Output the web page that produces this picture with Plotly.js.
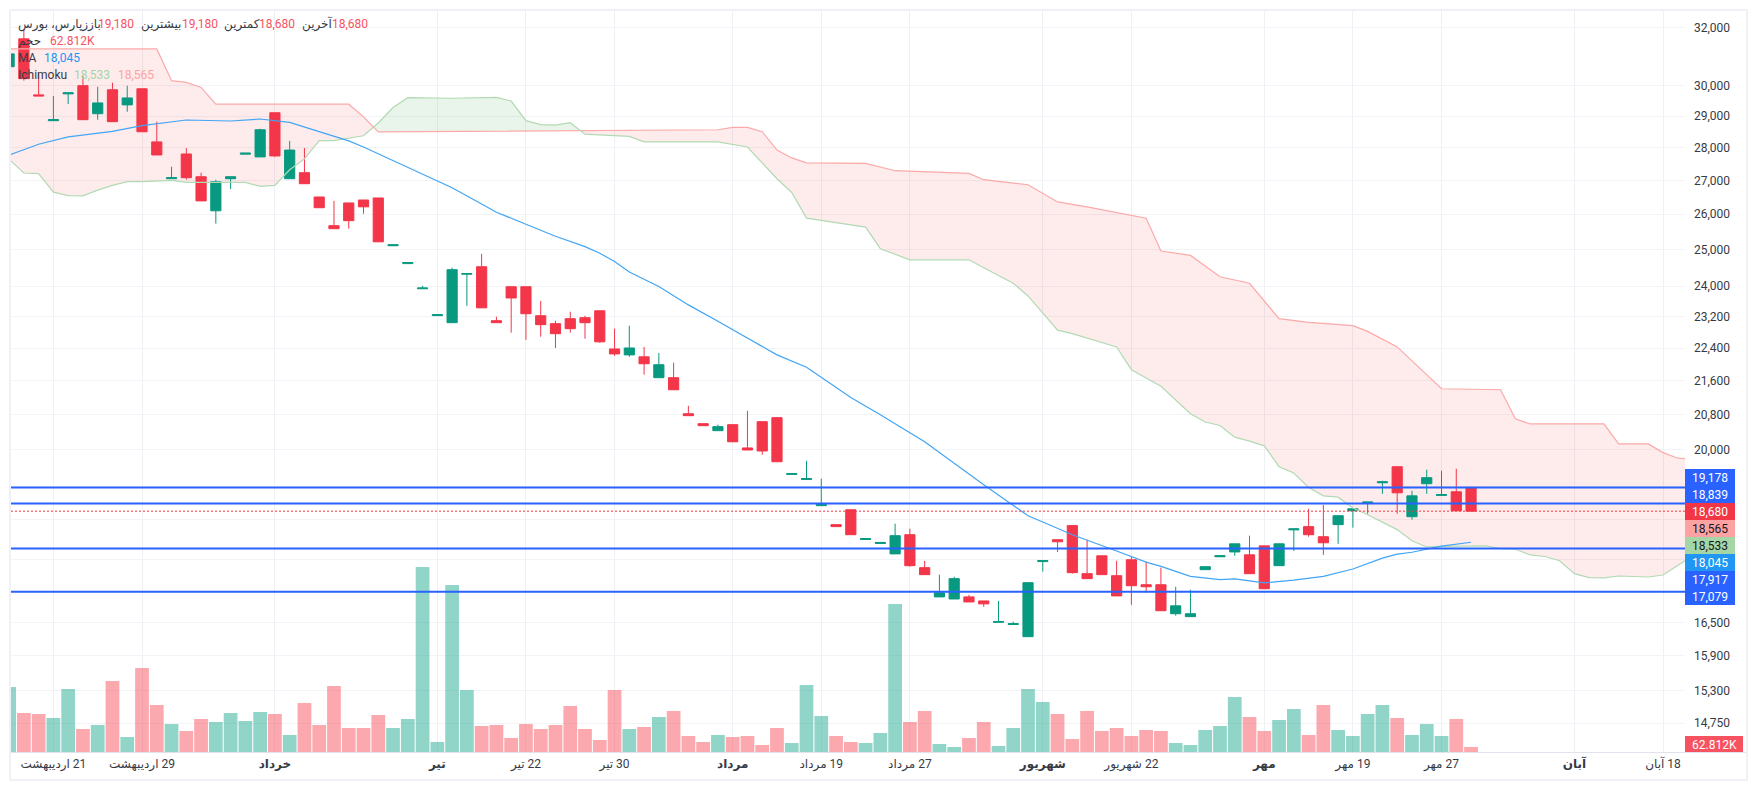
<!DOCTYPE html>
<html><head><meta charset="utf-8">
<script src="https://cdn.plot.ly/plotly-3.0.1.min.js"></script>
<style>html,body{margin:0;padding:0;background:#fff;overflow:hidden}#c{width:1757px;height:790px}</style>
</head><body><div id="c"></div>
<script>
const open=[30644,31610,29697,28856,29731,30002,29080,29866,29368,29900,28182,27050,27805,27110,26100,27050,27800,27715,29112,27050,27232,26505,25672,26330,26416,26476,25105,24610,23930,23225,23043,24320,24524,23094,23984,23984,23222,23018,23146,23171,23350,22378,22231,22183,21674,21674,20821,20592,20432,20569,20043,20638,20730,19460,19350,18795,18402,18709,18100,18020,17812,18197,17541,16979,16940,16979,16903,16505,16465,16243,17660,18095,18382,17424,17774,17385,17696,17211,17211,16664,16610,17502,17755,17851,17793,17972,17580,18295,18361,18156,18402,18688,18855,19280,19628,18565,19260,19010,19088,19180];
const high=[31084,31947,30408,29663,29765,30340,29968,30103,30002,29900,28824,27413,27990,27232,27020,27110,27830,28600,29112,28215,27990,26505,26390,26330,26416,26476,25130,24640,24010,23250,24497,24340,24877,23197,23984,23984,23606,23094,23325,23222,23350,22890,22966,22429,22279,22037,21005,20592,20569,20569,20890,20638,20730,19480,19758,19368,18402,18709,18120,18040,18422,18320,17677,17405,17366,17018,16903,16903,16517,17250,17680,18095,18382,18095,17774,17677,17754,17657,17541,17172,17115,17560,17775,18013,18177,17972,18013,18315,18729,18812,18586,18729,18870,19323,19628,19109,19563,19541,19585,19180];
const low=[30644,30171,29663,28856,29400,28888,28888,28824,29144,28502,27775,27050,27020,26390,25730,26740,27800,27715,27715,27050,26900,26190,25586,25586,26015,25214,25105,24610,23930,23225,23043,23478,23427,23043,22787,22608,22685,22403,22787,22634,22531,22207,22183,21747,21674,21384,20776,20546,20432,20180,19997,19888,19737,19460,19350,18795,18361,18197,18100,18020,17812,17560,17405,16979,16940,16884,16793,16505,16465,16243,17463,17851,17424,17328,17405,16998,16830,17057,16720,16628,16610,17502,17755,17774,17424,17134,17580,17870,18156,17793,18013,18341,18627,19044,18627,18504,19044,19010,18688,18680];
const close=[31084,30239,29663,28888,29765,28888,29432,28824,29596,28502,27775,27080,27080,26390,26960,27110,27830,28566,27745,27926,26900,26190,25586,25815,26216,25214,25130,24640,23950,23250,24443,24340,23427,23043,23686,23274,22992,22762,22890,23043,22557,22255,22403,22013,21989,21384,20776,20546,20524,20180,19997,19975,19737,19480,19370,18815,18361,18197,18120,18040,18177,17580,17405,17057,17328,16884,16848,16520,16480,17250,17680,18054,17444,17328,17405,16998,17192,17172,16720,16811,16664,17560,17775,18013,17424,17134,18013,18315,18197,18034,18586,18729,18870,19300,19066,19001,19390,19030,18688,18680];
const volume=[812.5,487.5,475,425,787.5,287.5,337.5,887.5,187.5,1050,587.5,350,262.5,412.5,375,487.5,387.5,500,475,212.5,612.5,337.5,825,300,300,462.5,300,412.5,2312.5,125,2087.5,775,325,337.5,175,350,287.5,337.5,575,287.5,150,775,287.5,312.5,437.5,512.5,200,125,212.5,187.5,200,87.5,300,112.5,837.5,450,200,125,112.5,237.5,1850,375,512.5,100,62.5,175,375,75,300,787.5,625,475,162.5,512.5,262.5,300,200,275,262.5,112.5,87.5,275,325,687.5,437.5,262.5,400,537.5,212.5,587.5,275,200,475,587.5,425,212.5,350,200,412.5,62.812];
const maX=[0,2,4,7,9,12,15,17,19,21,23,24,26,28,30,32,33,35,37,39,40,41,42,44,46,48,50,52,54,57,59,62,66,68,69,70,72,75,77,78,80,82,83,85,87,89,91,93,94,95,97,99];
const maY=[27775,28108,28342,28512,28696,28878,28846,28910,28802,28495,28214,28022,27594,27193,26778,26301,26058,25714,25371,25079,24895,24668,24381,23991,23504,23077,22652,22231,21929,21202,20798,20180,19240,18801,18586,18457,18197,17870,17650,17566,17372,17308,17322,17245,17300,17372,17515,17729,17807,17844,17967,18045];
const spanBX=[0,10,11,12,13,14,23,24,25,48,49,50,51,52,53,54,58,60,65,66,69,71,73,77,78,80,82,84,86,88,91,92,94,97,101,102,103,108,109,111,112,113,114];
const spanB=[31255,31255,30171,30112,29945,29390,29390,28980,28497,28566,28640,28640,28505,27926,27684,27533,27518,27292,27210,27020,26870,26359,26216,25887,24958,24836,24253,24077,23146,23051,22966,22820,22429,21408,21384,20706,20585,20585,20134,20134,19938,19815,19800];
const spanAX=[0,1,2,3,4,5,6,7,8,9,11,12,16,17,18,19,20,21,22,23,24,25,26,27,30,33,34,35,36,37,38,39,42,43,48,50,52,53,54,58,59,61,65,66,68,69,71,72,75,76,78,80,81,82,83,84,85,86,87,88,89,90,91,92,93,94,95,96,97,99,100,101,102,103,104,105,106,107,108,109,111,112,113,114];
const spanA=[27645,27223,27202,26650,26547,26537,26710,26850,26960,26960,27000,26940,26940,26820,26850,27322,27654,28224,28224,28301,28374,28782,29282,29606,29586,29612,29494,28856,28728,28712,28792,28424,28355,28182,28182,28022,27050,26638,25887,25629,25022,24714,24714,24497,24077,23740,22851,22762,22429,21868,21466,20821,20630,20551,20285,20194,20089,19628,19491,19179,19001,18973,18746,18607,18449,18300,18075,17950,17960,17975,17970,17917,17904,17793,17760,17677,17424,17347,17341,17379,17360,17398,17580,17774];
const supportLevels=[19178,18839,17917,17079];
const lastPrice=18680;
const priceTickVals=[32000,30000,29000,28000,27000,26000,25000,24000,23200,22400,21600,20800,20000,19200,18500,17700,16500,15900,15300,14750];
const priceTickText=['32,000','30,000','29,000','28,000','27,000','26,000','25,000','24,000','23,200','22,400','21,600','20,800','20,000','','','','16,500','15,900','15,300','14,750'];
const dateTickVals=[3,9,18,29,35,41,49,55,61,70,76,85,91,97,106,112];
const dateTickText=['\u200F21 اردیبهشت','\u200F29 اردیبهشت','<b>خرداد</b>','<b>تیر</b>','\u200F22 تیر','\u200F30 تیر','<b>مرداد</b>','\u200F19 مرداد','\u200F27 مرداد','<b>شهریور</b>','\u200F22 شهریور','<b>مهر</b>','\u200F19 مهر','\u200F27 مهر','<b>آبان</b>','\u200F18 آبان'];
const priceTags=[['19,178','#2962ff','#fff'],['18,839','#2962ff','#fff'],['18,680','#f23645','#fff'],['18,565','#fda2a2','#131722'],['18,533','#a5d6a7','#131722'],['18,045','#2196f3','#fff'],['17,917','#2962ff','#fff'],['17,079','#2962ff','#fff']];
const legendItems=[
 ['زپارس، بورس',18,24,'#363a45'],['باز',87,24,'#363a45'],['19,180',98,24,'#f7525f'],['بیشترین',141,24,'#363a45'],['19,180',182,24,'#f7525f'],['کمترین',224,24,'#363a45'],['18,680',259,24,'#f7525f'],['آخرین',302,24,'#363a45'],['18,680',332,24,'#f7525f'],
 ['حجم',18,41,'#363a45'],['62.812K',50,41,'#f7525f'],
 ['MA',18,58,'#363a45'],['18,045',44,58,'#2196f3'],
 ['Ichimoku',18,75,'#363a45'],['18,533',74,75,'#a5d6a7'],['18,565',118,75,'#fda2a2']];

// ---------- geometry ----------
const W=1757,H=790,L=11,R=1685,T=11,B=752;
const FONT='Roboto, "DejaVu Sans", sans-serif';
const pX=p=>(p-L)/(R-L), pY=p=>1-(p-T)/(B-T);
const STEP=14.767,X0=9.1;
const idx=p=>(p-X0)/STEP;
const idxs=open.map((_,i)=>i);

// ---------- Ichimoku cloud polygons, split where the spans cross ----------
function at(xs,ys,x){for(let i=1;i<xs.length;i++){if(x<=xs[i]){const t=(x-xs[i-1])/(xs[i]-xs[i-1]);return Math.exp(Math.log(ys[i-1])*(1-t)+Math.log(ys[i])*t);}}return ys[ys.length-1];}
const allX=[...new Set([...spanAX,...spanBX])].sort((a,b)=>a-b);
let segs=[],cur=null;
allX.forEach((x,k)=>{
  const a=at(spanAX,spanA,x),b=at(spanBX,spanB,x),s=a>=b?1:-1;
  if(!cur){cur={s,pts:[]};segs.push(cur);}
  else if(s!==cur.s){
    const px=allX[k-1],pa=at(spanAX,spanA,px),pb=at(spanBX,spanB,px);
    const d0=Math.log(pa/pb),d1=Math.log(a/b),t=d0/(d0-d1),cx=px+(x-px)*t,cv=at(spanAX,spanA,cx);
    cur.pts.push([cx,cv,cv]);cur={s,pts:[[cx,cv,cv]]};segs.push(cur);
  }
  cur.pts.push([x,a,b]);
});

const traces=[
 {type:'bar',x:idxs,y:volume,yaxis:'y2',hoverinfo:'skip',showlegend:false,width:0.93,
  marker:{color:idxs.map(i=>close[i]>=open[i]?'rgba(5,160,132,0.44)':'rgba(247,82,95,0.5)'),line:{width:0}}},
 {type:'scatter',mode:'lines',x:spanBX,y:spanB,line:{color:'#fba9a9',width:1.2},hoverinfo:'skip',showlegend:false},
 {type:'scatter',mode:'lines',x:spanAX,y:spanA,line:{color:'#b2dab3',width:1.2},hoverinfo:'skip',showlegend:false},
 {type:'candlestick',x:idxs,open,high,low,close,hoverinfo:'skip',showlegend:false,whiskerwidth:0,
  increasing:{line:{color:'#089981',width:1},fillcolor:'#089981'},
  decreasing:{line:{color:'#f33649',width:1},fillcolor:'#f33649'}},
 {type:'scatter',mode:'lines',x:maX,y:maY,line:{color:'#42a5f5',width:1.2},hoverinfo:'skip',showlegend:false}
];

// ---------- shapes ----------
const shapes=[];
segs.forEach(sg=>{
  const up=sg.pts.map(p=>p[0]+' '+p[1]),dn=sg.pts.slice().reverse().map(p=>p[0]+' '+p[2]);
  shapes.push({type:'path',xref:'x',yref:'y',layer:'between',line:{width:0},
    fillcolor:sg.s>0?'rgba(76,175,80,0.12)':'rgba(242,54,69,0.1)',
    path:'M'+up.concat(dn).join(' L')+' Z'});
});
supportLevels.forEach(v=>shapes.push({type:'line',xref:'paper',yref:'y',x0:0,x1:1,y0:v,y1:v,line:{color:'#2962ff',width:2}}));
shapes.push({type:'line',xref:'paper',yref:'y',x0:0,x1:1,y0:lastPrice,y1:lastPrice,line:{color:'#f23645',width:1,dash:'2px,2px'}});
const TAG_TOP=469,TAG_H=17;
priceTags.forEach((t,i)=>shapes.push({type:'rect',xref:'paper',yref:'paper',x0:pX(R),x1:pX(1735),y0:pY(TAG_TOP+i*TAG_H),y1:pY(TAG_TOP+(i+1)*TAG_H),fillcolor:t[1],line:{width:0}}));
shapes.push({type:'rect',xref:'paper',yref:'paper',x0:pX(R),x1:pX(1743),y0:pY(736),y1:pY(752),fillcolor:'#f7525f',line:{width:0}});
shapes.push({type:'line',xref:'paper',yref:'paper',x0:0,x1:pX(1747),y0:pY(752.5),y1:pY(752.5),line:{color:'#e0e3eb',width:1}});
shapes.push({type:'rect',xref:'paper',yref:'paper',x0:pX(10),x1:pX(1747),y0:pY(10),y1:pY(780),line:{color:'#f0f1f6',width:2},fillcolor:'rgba(0,0,0,0)'});

// ---------- annotations ----------
const annotations=[];
priceTags.forEach((t,i)=>annotations.push({xref:'paper',yref:'paper',x:pX(1710),y:pY(TAG_TOP+(i+0.5)*TAG_H),text:t[0],showarrow:false,xanchor:'center',yanchor:'middle',font:{family:FONT,size:12,color:t[2]}}));
annotations.push({xref:'paper',yref:'paper',x:pX(1714),y:pY(744.5),text:'62.812K',showarrow:false,xanchor:'center',yanchor:'middle',font:{family:FONT,size:12,color:'#fff'}});
legendItems.forEach(t=>annotations.push({xref:'paper',yref:'paper',x:pX(t[1]),y:pY(t[2]),text:t[0],showarrow:false,xanchor:'left',yanchor:'middle',borderpad:0,borderwidth:0,font:{family:FONT,size:12,color:t[3]}}));

const layout={width:W,height:H,margin:{l:L,r:W-R,t:T,b:H-B,pad:0},paper_bgcolor:'#fff',plot_bgcolor:'#fff',showlegend:false,
 font:{family:FONT,size:12,color:'#363a45'},boxmode:'group',boxgap:0.31,boxgroupgap:0,
 xaxis:{type:'linear',range:[idx(L),idx(R)],tickmode:'array',tickvals:dateTickVals,ticktext:dateTickText,ticks:'',showline:false,zeroline:false,
   showgrid:true,gridcolor:'#eef0f5',gridwidth:1,rangeslider:{visible:false},tickfont:{family:FONT,size:12,color:'#363a45'},ticklabelstandoff:3,fixedrange:true},
 yaxis:{type:'log',side:'right',range:[4.1549,4.51328],tickmode:'array',tickvals:priceTickVals,ticktext:priceTickText,ticks:'',showline:false,zeroline:false,
   showgrid:true,gridcolor:'#f2f3f7',gridwidth:1,tickfont:{family:FONT,size:12,color:'#363a45'},ticklabelstandoff:8,fixedrange:true},
 yaxis2:{overlaying:'y',side:'right',range:[0,9262.5],visible:false,fixedrange:true},
 shapes,annotations};
Plotly.newPlot('c',traces,layout,{displayModeBar:false,staticPlot:true});
</script></body></html>
